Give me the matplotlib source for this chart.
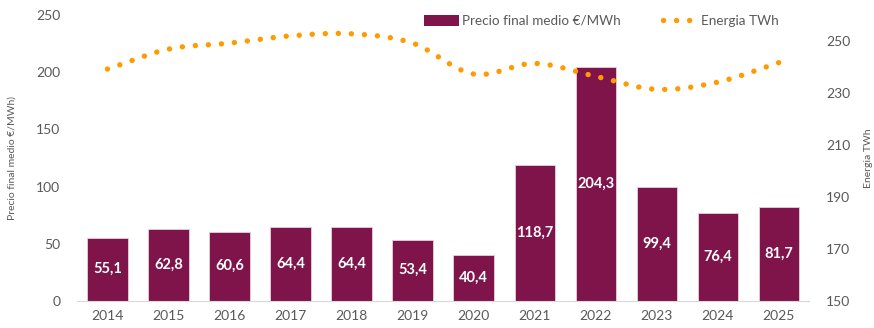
import numpy as np
import matplotlib.pyplot as plt
from matplotlib.lines import Line2D
from matplotlib.patches import Patch

plt.rcParams['font.family'] = ['Lato', 'DejaVu Sans']

years = ['2014', '2015', '2016', '2017', '2018', '2019', '2020', '2021', '2022', '2023', '2024', '2025']
precio = [55.1, 62.8, 60.6, 64.4, 64.4, 53.4, 40.4, 118.7, 204.3, 99.4, 76.4, 81.7]
energia = [239.2, 246.9, 249.2, 252.0, 252.8, 249.2, 237.3, 241.4, 236.4, 231.4, 234.2, 241.7]

bar_color = '#7E1449'
dot_color = '#FF9B00'
txt_grey = '#595959'


def smooth(xs, ys, n=20):
    # catmull-rom pass through the points, like a smoothed line in a spreadsheet
    xs = np.asarray(xs, float)
    ys = np.asarray(ys, float)
    px = np.concatenate([[2 * xs[0] - xs[1]], xs, [2 * xs[-1] - xs[-2]]])
    py = np.concatenate([[2 * ys[0] - ys[1]], ys, [2 * ys[-1] - ys[-2]]])
    out_x, out_y = [], []
    for i in range(1, len(px) - 2):
        t = np.linspace(0, 1, n, endpoint=False)
        for p, o in ((px, out_x), (py, out_y)):
            p0, p1, p2, p3 = p[i - 1], p[i], p[i + 1], p[i + 2]
            o.extend(0.5 * ((2 * p1) + (-p0 + p2) * t +
                            (2 * p0 - 5 * p1 + 4 * p2 - p3) * t ** 2 +
                            (-p0 + 3 * p1 - 3 * p2 + p3) * t ** 3))
    out_x.append(xs[-1])
    out_y.append(ys[-1])
    return np.array(out_x), np.array(out_y)


fig = plt.figure(figsize=(8.74, 3.28), dpi=100)
ax = fig.add_axes([0.088, 0.083, 0.838, 0.871])
x = np.arange(len(years))

ax.bar(x, precio, width=0.66, color=bar_color, edgecolor='#E8D0DC', linewidth=0.6, zorder=2)
for xi, v in zip(x, precio):
    ax.text(xi, v / 2, f'{v:.1f}'.replace('.', ','), ha='center', va='center',
            color='white', fontsize=10.5, fontweight='bold', zorder=3)

ax.set_xlim(-0.5, len(years) - 0.5)
ax.set_ylim(0, 250)
ax.set_yticks(range(0, 251, 50))
ax.set_xticks(x, years)
for s in ['top', 'right', 'left']:
    ax.spines[s].set_visible(False)
ax.spines['bottom'].set_color('#D9D9D9')
ax.tick_params(length=0, colors=txt_grey, labelsize=10)
ax.tick_params(axis='x', pad=7)
ax.tick_params(axis='y', pad=12)
ax.set_ylabel('Precio final medio €/MWh)', color=txt_grey, fontsize=7.5, labelpad=14)

ax2 = ax.twinx()
ax2.set_ylim(150, 260)
ax2.set_yticks(range(150, 251, 20))
for s in ax2.spines.values():
    s.set_visible(False)
ax2.tick_params(length=0, colors=txt_grey, labelsize=10, pad=12)
ax2.set_ylabel('Energia TWh', color=txt_grey, fontsize=7.5, labelpad=10)

sx, sy = smooth(x, energia)
ax2.plot(sx, sy, color=dot_color, linewidth=3.9, linestyle=(0, (0.01, 2.4)),
         dash_capstyle='round', zorder=4)

handles = [Patch(facecolor=bar_color, label='Precio final medio €/MWh'),
           Line2D([], [], color=dot_color, linewidth=3.9, linestyle=(0, (0.01, 2.4)),
                  dash_capstyle='round', label='Energia TWh')]
fig.legend(handles=handles, loc='upper left', bbox_to_anchor=(0.471, 0.992), ncol=2,
           frameon=False, fontsize=9.7, labelcolor=txt_grey, handlelength=2.6,
           handleheight=0.9, handletextpad=0.2, columnspacing=3.2)

fig.savefig('out.png', dpi=100)
